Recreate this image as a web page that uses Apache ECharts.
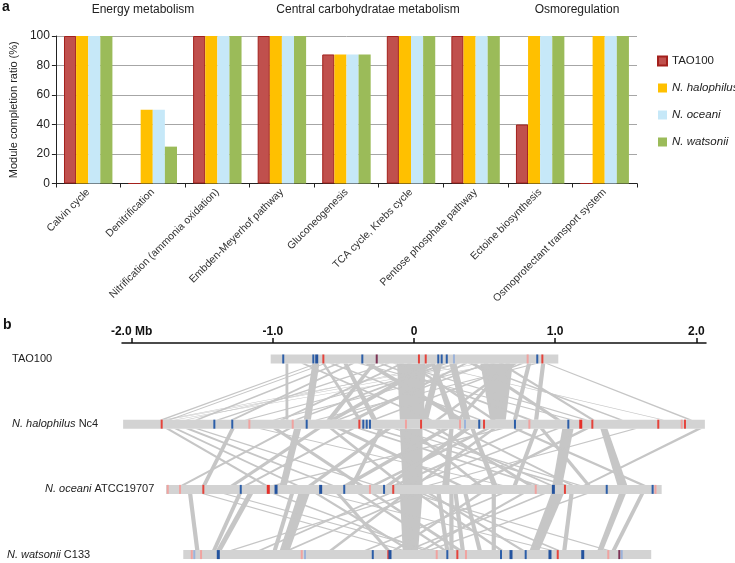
<!DOCTYPE html>
<html>
<head>
<meta charset="utf-8">
<script src="https://cdn.jsdelivr.net/npm/echarts@6/dist/echarts.min.js"></script>
<style>html,body{margin:0;padding:0;background:#fff;}#c{width:735px;height:563px;}</style>
</head>
<body>
<div id="c"></div>
<script>
// ---------- Panel a data ----------
const categories = ['Calvin cycle','Denitrification','Nitrification (ammonia oxidation)','Embden-Meyerhof pathway','Gluconeogenesis','TCA cycle, Krebs cycle','Pentose phosphate pathway','Ectoine biosynthesis','Osmoprotectant transport system'];
const seriesNames = ['TAO100','N. halophilus','N. oceani','N. watsonii'];
const tao100 = [100, 0, 100, 100, 87.5, 100, 100, 40, 0];
const halophilus = [100, 50, 100, 100, 87.5, 100, 100, 100, 100];
const oceani = [100, 50, 100, 100, 87.5, 100, 100, 100, 100];
const watsonii = [100, 25, 100, 100, 87.5, 100, 100, 100, 100];
const groupTitles = ['Energy metabolism','Central carbohydratae metabolism','Osmoregulation'];

// ---------- Panel b data (Mb) ----------
const genomes = ['TAO100','N. halophilus Nc4','N. oceani ATCC19707','N. watsonii C133'];
const genomeStart = [-1.015, -2.06, -1.756, -1.634];
const genomeEnd = [1.022, 2.06, 1.754, 1.68];
const genomeTicks = [-2, -1, 0, 1, 2];
const genomeTickLabels = ['-2.0 Mb', '-1.0', '0', '1.0', '2.0'];

// markers: [position, kind]  r=red, R=thick red, lr=light red, b=blue, B=thick blue, lb=light blue, d=dark
const markersTAO = [[-0.926,'b'],[-0.713,'b'],[-0.689,'B'],[-0.642,'r'],[-0.366,'b'],[-0.264,'d'],[0.035,'r'],[0.083,'r'],[0.172,'b'],[0.196,'b'],[0.232,'b'],[0.283,'lb'],[0.805,'lr'],[0.873,'b'],[0.909,'r']];
const markersHalo = [[-1.787,'r'],[-1.414,'b'],[-1.287,'b'],[-1.166,'lr'],[-0.859,'lr'],[-0.760,'b'],[-0.387,'r'],[-0.359,'b'],[-0.335,'b'],[-0.312,'b'],[-0.057,'lr'],[0.050,'r'],[0.326,'lr'],[0.361,'lb'],[0.462,'b'],[0.496,'r'],[0.715,'b'],[0.817,'lr'],[1.093,'b'],[1.181,'R'],[1.263,'r'],[1.730,'r'],[1.896,'lr'],[1.919,'r']];
const markersOceani = [[-1.744,'lr'],[-1.657,'lr'],[-1.492,'r'],[-1.227,'b'],[-1.032,'R'],[-0.977,'B'],[-0.661,'B'],[-0.494,'b'],[-0.312,'lr'],[-0.212,'b'],[-0.147,'r'],[0.862,'lr'],[0.987,'B'],[1.069,'r'],[1.365,'b'],[1.690,'b'],[1.710,'lr']];
const markersWats = [[-1.574,'lr'],[-1.556,'lb'],[-1.508,'lr'],[-1.386,'B'],[-0.795,'lr'],[-0.772,'lb'],[-0.292,'b'],[-0.182,'r'],[-0.170,'B'],[0.161,'lr'],[0.236,'b'],[0.307,'r'],[0.368,'lr'],[0.616,'b'],[0.687,'B'],[0.791,'b'],[0.963,'B'],[1.018,'r'],[1.195,'B'],[1.376,'lr'],[1.454,'d'],[1.471,'lb']];

// synteny links: [upperStart, upperEnd, lowerStart, lowerEnd]
const linksTaoHalo = [
 [-0.12,0.08,-0.10,0.07],[0.47,0.70,0.54,0.65],[-0.91,-0.89,-0.91,-0.89],[-0.72,-0.67,-0.78,-0.73],
 [-0.70,-0.68,-1.80,-1.77],[-0.64,-0.62,-1.74,-1.72],[-0.55,-0.52,-1.55,-1.52],[-0.45,-0.42,-1.30,-1.27],
 [0.10,0.16,-0.60,-0.55],[0.20,0.24,-0.85,-0.82],[0.30,0.33,-1.20,-1.17],[0.35,0.38,-0.45,-0.40],
 [0.75,0.78,-0.30,-0.27],[0.85,0.88,-0.70,-0.67],[-0.35,-0.30,0.30,0.36],[-0.60,-0.57,0.45,0.48],
 [-0.25,-0.22,0.80,0.84],[-0.80,-0.77,0.10,0.13],[0.25,0.30,0.35,0.40],[0.40,0.44,1.00,1.04],
 [0.60,0.63,1.25,1.28],[0.93,0.95,1.94,1.97],[0.90,0.93,0.85,0.88],[-0.10,-0.07,-0.95,-0.92],
 [0.12,0.15,0.25,0.30],[-0.50,-0.47,-0.30,-0.26],[0.70,0.73,0.15,0.18],[0.55,0.58,-1.00,-0.97],
 [0.30,0.32,-1.78,-1.76],[0.45,0.47,-1.76,-1.74],[0.62,0.64,-1.70,-1.68],[0.20,0.22,-1.62,-1.60],
 [-0.40,-0.37,1.10,1.13],[-0.15,-0.12,1.20,1.23],[0.05,0.07,1.75,1.77],[0.16,0.20,0.05,0.10],
 [-0.30,-0.27,-0.62,-0.58],[-0.05,-0.02,0.55,0.58],[0.50,0.53,-0.55,-0.52],[0.65,0.68,0.30,0.33],
 [-0.65,-0.63,-0.40,-0.37],[0.80,0.83,0.70,0.73],[-0.20,-0.17,-1.40,-1.37],[0.38,0.41,1.45,1.48]
];
const linksHaloOceani = [
 [-0.10,0.06,-0.08,0.06],[1.05,1.13,0.98,1.05],[1.32,1.37,1.44,1.51],[2.00,2.04,1.20,1.23],
 [0.89,0.92,1.22,1.25],[-1.76,-1.73,-1.07,-1.04],[-1.70,-1.67,-0.85,-0.82],[-1.62,-1.58,-0.60,-0.57],
 [-1.55,-1.52,-0.30,-0.27],[-0.90,-0.87,-1.65,-1.62],[-1.00,-0.96,-0.40,-0.36],[-0.85,-0.80,-0.95,-0.90],
 [-0.70,-0.66,-1.30,-1.26],[-0.55,-0.50,0.30,0.34],[-0.40,-0.36,0.85,0.89],[-0.30,-0.26,1.05,1.09],
 [-0.20,-0.16,-0.75,-0.71],[0.20,0.25,-0.50,-0.45],[0.35,0.40,-0.20,-0.16],[0.50,0.54,-0.30,-0.26],
 [0.60,0.64,-1.00,-0.96],[0.75,0.78,-0.15,-0.11],[0.40,0.43,0.55,0.59],[0.15,0.18,0.80,0.84],
 [0.70,0.74,1.60,1.64],[1.20,1.24,0.40,0.44],[1.55,1.58,0.10,0.13],[-0.05,-0.02,0.45,0.48],
 [0.25,0.28,0.20,0.25],[-1.30,-1.27,-1.50,-1.47],[-0.15,-0.12,1.15,1.18],[0.05,0.08,0.95,0.98],
 [-0.60,-0.57,-0.10,-0.07],[0.30,0.33,1.10,1.13],[-1.10,-1.07,0.60,0.63],[0.55,0.58,0.00,0.03],
 [-0.45,-0.42,-1.20,-1.17],[0.85,0.88,0.70,0.73],[1.00,1.03,-0.05,-0.02],[-0.25,-0.22,-0.45,-0.42]
];
const linksOceaniWats = [
 [-0.10,0.06,-0.08,0.03],[-0.82,-0.74,-0.95,-0.88],[-0.88,-0.85,-1.00,-0.97],[-1.18,-1.14,-1.40,-1.36],
 [-1.25,-1.22,-1.43,-1.40],[0.97,1.06,0.82,0.89],[1.45,1.50,1.30,1.34],[-0.05,-0.02,-1.30,-1.27],
 [0.00,0.03,-0.90,-0.87],[-0.08,-0.05,-0.60,-0.57],[0.02,0.05,0.60,0.63],[0.05,0.08,1.00,1.03],
 [-0.02,0.01,1.35,1.38],[-1.50,-1.47,-0.10,-0.07],[-1.00,-0.97,0.05,0.08],[0.90,0.93,-0.05,-0.02],
 [1.20,1.23,0.10,0.13],[-0.40,-0.37,0.20,0.23],[-0.30,-0.27,0.30,0.34],[0.25,0.28,0.25,0.28],
 [0.35,0.38,0.45,0.48],[0.55,0.58,0.55,0.58],[-0.55,-0.52,-0.20,-0.17],[0.60,0.63,-0.35,-0.32],
 [1.60,1.63,1.40,1.43],[-0.65,-0.62,0.95,0.98],[0.16,0.19,0.22,0.25],[0.28,0.31,0.33,0.36],
 [-1.35,-1.32,0.10,0.13],[0.45,0.48,-0.15,-0.12],[-0.70,-0.67,-0.05,-0.02],[0.75,0.78,0.05,0.08],
 [-0.20,-0.17,-1.10,-1.07],[0.10,0.13,0.75,0.78],[1.10,1.13,1.05,1.08],[-1.60,-1.57,-1.55,-1.52]
];

// ---------- build ----------
const FONT = '"Liberation Sans", Arial, Helvetica, sans-serif';
const barColors = ['#c0504d','#ffc000','#c6e8f8','#9bbb59'];
const barData = [tao100, halophilus, oceani, watsonii];
const markerStyle = {
  r:{c:'#e5433b',w:2}, R:{c:'#e5302a',w:3}, lr:{c:'#f0a3a0',w:2},
  b:{c:'#2c5ea8',w:2}, B:{c:'#24539e',w:3}, lb:{c:'#9cb3da',w:2}, d:{c:'#7d3355',w:2}
};
const allMarkers = [markersTAO, markersHalo, markersOceani, markersWats];
const markerList = [];
allMarkers.forEach((arr, t) => arr.forEach(m => markerList.push({t, pos:m[0], kind:m[1]})));
const linkList = [];
[linksTaoHalo, linksHaloOceani, linksOceaniWats].forEach((arr, t) => arr.forEach(l => linkList.push([t, l[0], l[1], l[2], l[3]])));
const TRACK_H = 9;

const chart = echarts.init(document.getElementById('c'), null, {renderer:'canvas'});
const option = {
  animation: false,
  backgroundColor: '#fff',
  textStyle: {fontFamily: FONT},
  grid: [
    {left: 48, top: 36, width: 589, height: 147.5},
    {left: 122, top: 343, width: 584, height: 218.1}
  ],
  legend: {
    orient: 'vertical', left: 652, top: 50, itemWidth: 9, itemHeight: 9, itemGap: 15,
    icon: 'rect',
    textStyle: {fontSize: 11.5, color: '#222', fontFamily: FONT},
    data: [
      {name: seriesNames[0]},
      {name: seriesNames[1], textStyle: {fontStyle: 'italic'}},
      {name: seriesNames[2], textStyle: {fontStyle: 'italic'}},
      {name: seriesNames[3], textStyle: {fontStyle: 'italic'}}
    ]
  },
  xAxis: [
    {
      type: 'category', gridIndex: 0, data: categories,
      axisLine: {lineStyle: {color: '#222', width: 1}},
      axisTick: {show: true, interval: 0, length: 4, lineStyle: {color: '#222'}},
      axisLabel: {interval: 0, rotate: 45, fontSize: 10.5, color: '#333', margin: 7, fontFamily: FONT}
    },
    {
      type: 'value', gridIndex: 1, position: 'top', min: -2.068, max: 2.068,
      axisLine: {show: true, onZero: false, lineStyle: {color: '#111', width: 1.5}},
      axisTick: {show: true, customValues: genomeTicks, length: 5, lineStyle: {color: '#111', width: 1.5}},
      axisLabel: {customValues: genomeTicks, fontSize: 12, fontWeight: 'bold', color: '#111', margin: 5, fontFamily: FONT,
        formatter: v => genomeTickLabels[genomeTicks.indexOf(Math.round(v))]},
      splitLine: {show: false}
    }
  ],
  yAxis: [
    {
      type: 'value', gridIndex: 0, min: 0, max: 100, interval: 20,
      name: 'Module completion ratio (%)', nameLocation: 'middle', nameGap: 30, nameRotate: 90,
      nameTextStyle: {fontSize: 11, color: '#222', fontFamily: FONT},
      axisLine: {show: true, lineStyle: {color: '#222'}},
      axisTick: {show: true, length: 4, lineStyle: {color: '#222'}},
      axisLabel: {fontSize: 12, color: '#222', margin: 6, fontFamily: FONT},
      splitLine: {show: true, lineStyle: {color: '#a6a6a6', width: 1}}
    },
    {type: 'value', gridIndex: 1, min: -0.245, max: 3.1, inverse: true, show: false, splitLine: {show: false}}
  ],
  series: [
    ...seriesNames.map((n, i) => ({
      name: n, type: 'bar', xAxisIndex: 0, yAxisIndex: 0, data: barData[i],
      barGap: '0%', barCategoryGap: '25%',
      itemStyle: i === 0 ? {color: barColors[i], borderColor: '#a3201c', borderWidth: 1} : {color: barColors[i]}
    })),
    {
      type: 'custom', xAxisIndex: 1, yAxisIndex: 1, z: 1, silent: true,
      data: linkList,
      renderItem: (params, api) => {
        const t = api.value(0);
        const yT = api.coord([0, t])[1] + TRACK_H / 2;
        const yB = api.coord([0, t + 1])[1] - TRACK_H / 2;
        const x = v => api.coord([v, t])[0];
        return {type: 'polygon', shape: {points: [[x(api.value(1)), yT],[x(api.value(2)), yT],[x(api.value(4)), yB],[x(api.value(3)), yB]]},
          style: {fill: '#c6c6c6'}};
      },
      encode: {x: [1,2,3,4], y: 0}
    },
    {
      type: 'custom', xAxisIndex: 1, yAxisIndex: 1, z: 2, silent: true,
      data: genomes.map((g, i) => [i, genomeStart[i], genomeEnd[i]]),
      renderItem: (params, api) => {
        const t = api.value(0);
        const p0 = api.coord([api.value(1), t]);
        const p1 = api.coord([api.value(2), t]);
        return {type: 'rect', shape: {x: p0[0], y: p0[1] - TRACK_H / 2, width: p1[0] - p0[0], height: TRACK_H}, style: {fill: '#d3d3d3'}};
      },
      encode: {x: [1,2], y: 0}
    },
    {
      type: 'custom', xAxisIndex: 1, yAxisIndex: 1, z: 3, silent: true,
      data: markerList.map(m => [m.t, m.pos]),
      renderItem: (params, api) => {
        const m = markerList[params.dataIndex];
        const s = markerStyle[m.kind];
        const p = api.coord([api.value(1), api.value(0)]);
        return {type: 'rect', shape: {x: p[0] - s.w / 2, y: p[1] - TRACK_H / 2, width: s.w, height: TRACK_H}, style: {fill: s.c}};
      },
      encode: {x: 1, y: 0}
    }
  ],
  graphic: [
    {type: 'text', left: 2, top: 0, style: {text: 'a', font: 'bold 14px ' + FONT, fill: '#111'}},
    {type: 'text', left: 3, top: 318, style: {text: 'b', font: 'bold 14px ' + FONT, fill: '#111'}},
    {type: 'text', x: 143, y: 10, style: {text: groupTitles[0], font: '12px ' + FONT, fill: '#222', align: 'center', verticalAlign: 'middle'}},
    {type: 'text', x: 368, y: 10, style: {text: groupTitles[1], font: '12px ' + FONT, fill: '#222', align: 'center', verticalAlign: 'middle'}},
    {type: 'text', x: 577, y: 10, style: {text: groupTitles[2], font: '12px ' + FONT, fill: '#222', align: 'center', verticalAlign: 'middle'}},
    {type: 'text', x: 12, y: 359, style: {text: genomes[0], font: '11px ' + FONT, fill: '#222', verticalAlign: 'middle'}},
    {type: 'text', x: 12, y: 424, style: {text: '{i|N. halophilus} Nc4', fontSize: 11, fontFamily: FONT, fill: '#222', verticalAlign: 'middle',
      rich: {i: {fontStyle: 'italic', fontSize: 11, fontFamily: FONT, fill: '#222'}}}},
    {type: 'text', x: 45, y: 489, style: {text: '{i|N. oceani} ATCC19707', fontSize: 11, fontFamily: FONT, fill: '#222', verticalAlign: 'middle',
      rich: {i: {fontStyle: 'italic', fontSize: 11, fontFamily: FONT, fill: '#222'}}}},
    {type: 'text', x: 7, y: 555, style: {text: '{i|N. watsonii} C133', fontSize: 11, fontFamily: FONT, fill: '#222', verticalAlign: 'middle',
      rich: {i: {fontStyle: 'italic', fontSize: 11, fontFamily: FONT, fill: '#222'}}}}
  ]
};
chart.setOption(option);
</script>
</body>
</html>
